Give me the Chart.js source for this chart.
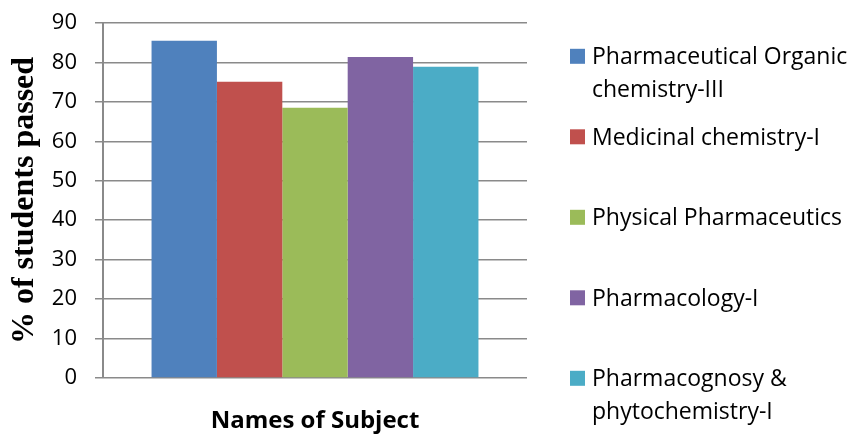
<!DOCTYPE html>
<html><head><meta charset="utf-8">
<script src="https://cdn.jsdelivr.net/npm/chart.js@4/dist/chart.umd.min.js"></script>
<style>html,body{margin:0;padding:0;background:#fff}#wrap{width:854px;height:437px;position:relative}</style>
</head><body><div id="wrap"><canvas id="c" width="854" height="437"></canvas></div>
<script>
const categories = [''];
const seriesNames = ['Pharmaceutical Organic chemistry-III', 'Medicinal chemistry-I', 'Physical Pharmaceutics', 'Pharmacology-I', 'Pharmacognosy & phytochemistry-I'];
const seriesValues = [[85.5], [75.1], [68.5], [81.4], [78.9]];
const seriesColors = ['#4F81BD', '#C0504D', '#9BBB59', '#8064A2', '#4BACC6'];
const yTicks = [0, 10, 20, 30, 40, 50, 60, 70, 80, 90];
const yTitle = '% of students passed';
const xTitle = 'Names of Subject';

function wrapText(ctx, text, maxW) {
  const words = text.split(' ');
  const lines = [];
  let cur = '';
  words.forEach(w => {
    const t = cur ? cur + ' ' + w : w;
    if (ctx.measureText(t).width > maxW && cur) { lines.push(cur); cur = w; }
    else cur = t;
  });
  if (cur) lines.push(cur);
  return lines;
}

const sideLegend = {
  id: 'sideLegend',
  afterDraw(chart) {
    const ctx = chart.ctx;
    ctx.save();
    ctx.font = '23px "Open Sans"';
    ctx.textAlign = 'left';
    ctx.textBaseline = 'alphabetic';
    const boxX = 570, boxS = 15, textX = 592, y0 = 56.3, step = 80.5, lh = 32.5, maxW = 262;
    chart.data.datasets.forEach((ds, i) => {
      const cy = y0 + i * step;
      ctx.fillStyle = ds.backgroundColor;
      ctx.fillRect(boxX, cy - boxS / 2, boxS, boxS);
      ctx.fillStyle = '#000';
      wrapText(ctx, ds.label, maxW).forEach((line, j) => ctx.fillText(line, textX, cy + 8 + j * lh));
    });
    ctx.restore();
  }
};

new Chart(document.getElementById('c'), {
  type: 'bar',
  data: {
    labels: categories,
    datasets: seriesNames.map((n, i) => ({
      label: n,
      data: seriesValues[i],
      backgroundColor: seriesColors[i],
      borderWidth: 0,
      barPercentage: 1,
      categoryPercentage: 0.771
    }))
  },
  options: {
    responsive: false,
    animation: false,
    devicePixelRatio: 1,
    layout: { padding: { top: 23, right: 327, bottom: 0, left: 0 } },
    plugins: { legend: { display: false }, tooltip: { enabled: false } },
    scales: {
      x: {
        ticks: { display: false },
        grid: { display: false },
        border: { display: false },
        title: { display: true, text: xTitle, color: '#000', font: { family: '"Open Sans"', size: 24, weight: 'bold' }, padding: { top: 0, bottom: 1 } },
        afterFit(s) { s.height = 59; s.paddingLeft = 0; s.paddingRight = 0; }
      },
      y: {
        min: 0, max: 90,
        afterBuildTicks(s) { s.ticks = yTicks.map(v => ({ value: v })); },
        ticks: { color: '#000', padding: 18, font: { family: '"Open Sans"', size: 22 } },
        grid: { color: '#8a8a8a', lineWidth: 1.5, tickLength: 8, drawTicks: true },
        border: { display: true, color: '#8a8a8a', width: 2 },
        title: { display: true, text: yTitle, color: '#000', font: { family: '"Liberation Serif"', size: 32, weight: 'bold' }, padding: { top: 6, bottom: 0 } },
        afterFit(s) { s.width = 103; s.paddingTop = 0; s.paddingBottom = 0; }
      }
    }
  },
  plugins: [sideLegend]
});
</script>
</body></html>
